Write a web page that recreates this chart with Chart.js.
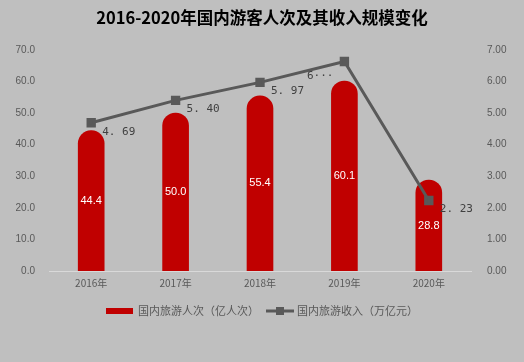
<!DOCTYPE html>
<html><head><meta charset="utf-8">
<script src="https://cdn.jsdelivr.net/npm/chart.js@4/dist/chart.umd.min.js"></script>
<style>html,body{margin:0;padding:0;background:#BFBFBF;}#wrap{width:524px;height:362px;}</style>
</head><body><div id="wrap"><canvas id="c" width="524" height="362"></canvas></div>
<script>
const categories = ['2016年','2017年','2018年','2019年','2020年'];
const visitors = [44.4, 50.0, 55.4, 60.1, 28.8];
const revenue = [4.69, 5.40, 5.97, 6.63, 2.23];
const leftTicks = [0,10,20,30,40,50,60,70];
const rightTicks = [0,1,2,3,4,5,6,7];
const seriesNames = ['国内旅游人次（亿人次）','国内旅游收入（万亿元）'];

const labelPlugin = {
  id:'labels',
  afterDatasetsDraw(chart){
    const ctx=chart.ctx;
    ctx.save();
    const bm=chart.getDatasetMeta(0);
    ctx.font='11px "Liberation Sans", Arial, sans-serif';
    ctx.fillStyle='#FFFFFF';ctx.textAlign='center';ctx.textBaseline='middle';
    bm.data.forEach((b,i)=>{
      const y=(b.y+b.base)/2;
      ctx.fillText(visitors[i].toFixed(1), b.x, y);
    });
    const lm=chart.getDatasetMeta(1);
    ctx.font='11px "DejaVu Sans Mono", monospace';
    ctx.fillStyle='#404040';ctx.textBaseline='middle';
    lm.data.forEach((p,i)=>{
      if(i===3){ctx.textAlign='right';ctx.fillText('6···',p.x-11,p.y+15);}
      else{ctx.textAlign='left';ctx.fillText(revenue[i].toFixed(2).replace('.', '. '),p.x+11,p.y+9);}
    });
    ctx.restore();
  },
  afterDraw(chart){
    const ctx=chart.ctx;
    ctx.save();
    ctx.font='11px "Noto Sans CJK SC", sans-serif';
    ctx.textBaseline='middle';ctx.textAlign='left';
    const y=311;
    const w0=ctx.measureText(seriesNames[0]).width, w1=ctx.measureText(seriesNames[1]).width;
    const total=27+5+w0+7+28+3+w1;
    let x=(chart.width-total)/2;
    ctx.fillStyle='#C00000';ctx.fillRect(x,y-3,27,6);
    x+=32;ctx.fillStyle='#595959';ctx.fillText(seriesNames[0],x,y);
    x+=w0+7;
    ctx.strokeStyle='#595959';ctx.lineWidth=3;ctx.beginPath();ctx.moveTo(x,y);ctx.lineTo(x+28,y);ctx.stroke();
    ctx.fillRect(x+10,y-4,8,8);
    x+=31;ctx.fillText(seriesNames[1],x,y);
    ctx.restore();
  }
};

new Chart(document.getElementById('c'),{
  data:{labels:categories,datasets:[
    {type:'bar',label:seriesNames[0],data:visitors,backgroundColor:'#C00000',yAxisID:'y',
     barThickness:26,borderRadius:{topLeft:13,topRight:13,bottomLeft:0,bottomRight:0},borderSkipped:false,order:2},
    {type:'line',label:seriesNames[1],data:revenue,borderColor:'#595959',backgroundColor:'#595959',yAxisID:'y1',
     borderWidth:3,pointStyle:'rect',pointRadius:4.5,pointBackgroundColor:'#595959',pointBorderColor:'#595959',order:1,tension:0}
  ]},
  options:{
    responsive:false,animation:false,
    layout:{padding:{left:0,right:0,top:0,bottom:67}},
    plugins:{
      title:{display:true,text:'2016-2020年国内游客人次及其收入规模变化',color:'#000',font:{size:16.5,weight:'bold',family:'"Noto Sans CJK SC", sans-serif'},padding:{top:8,bottom:22}},
      legend:{display:false},
      tooltip:{enabled:false}
    },
    scales:{
      x:{grid:{display:false,drawTicks:false},border:{display:true,color:'#D9D9D9',width:1},ticks:{color:'#595959',font:{size:10,family:'"Noto Sans CJK SC", sans-serif'},padding:6}},
      y:{position:'left',min:0,max:70,afterBuildTicks(a){a.ticks=leftTicks.map(v=>({value:v}));},afterFit(a){a.width=49;},
         grid:{display:false},border:{display:false},ticks:{color:'#595959',font:{size:10,family:'"Liberation Sans", Arial, sans-serif'},padding:6,callback:v=>Number(v).toFixed(1)}},
      y1:{position:'right',min:0,max:7,afterBuildTicks(a){a.ticks=rightTicks.map(v=>({value:v}));},afterFit(a){a.width=53;},
         grid:{display:false},border:{display:false},ticks:{color:'#595959',font:{size:10,family:'"Liberation Sans", Arial, sans-serif'},padding:8,callback:v=>Number(v).toFixed(2)}}
    }
  },
  plugins:[labelPlugin]
});
</script></body></html>
